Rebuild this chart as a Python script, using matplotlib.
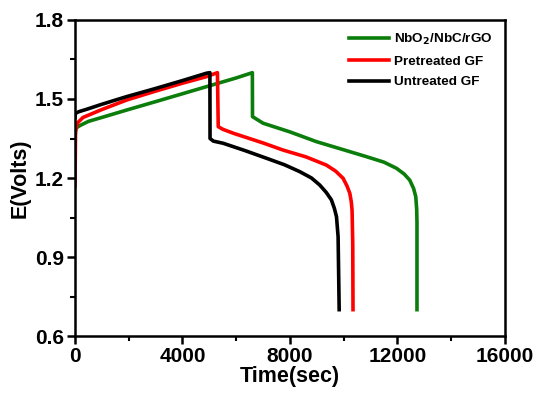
import matplotlib
matplotlib.use('Agg')
from matplotlib import pyplot as plt
from matplotlib.ticker import MultipleLocator, FormatStrFormatter

plt.rcParams['font.family'] = ['Liberation Sans', 'DejaVu Sans']
plt.rcParams['font.weight'] = 'bold'
plt.rcParams['mathtext.default'] = 'bf'

# NbO2/NbC/rGO
green_t = [0, 40, 200, 500, 1000, 1920, 3000, 4000, 4895, 6000, 6600,
           6605, 7000, 8000, 8985, 10000, 10845, 11500, 11960, 12250, 12455, 12600, 12680, 12715, 12725, 12725]
green_v = [1.36, 1.39, 1.40, 1.415, 1.43, 1.458, 1.49, 1.52, 1.547, 1.58, 1.60,
           1.433, 1.408, 1.375, 1.338, 1.307, 1.281, 1.26, 1.237, 1.215, 1.192, 1.16, 1.129, 1.08, 1.03, 0.70]

# Pretreated GF
red_t = [0, 20, 100, 300, 1000, 1920, 3000, 4000, 4895, 5300,
         5330, 5500, 5890, 7000, 7745, 8600, 9355, 9700, 9975, 10120, 10225, 10280, 10310, 10335, 10345]
red_v = [1.17, 1.38, 1.41, 1.43, 1.46, 1.496, 1.53, 1.56, 1.585, 1.60,
         1.395, 1.385, 1.37, 1.333, 1.306, 1.28, 1.249, 1.226, 1.199, 1.17, 1.142, 1.11, 1.077, 0.95, 0.70]

# Untreated GF
black_t = [0, 20, 150, 435, 1000, 1920, 3000, 4000, 4895, 5020,
           5025, 5150, 5510, 6300, 7125, 7800, 8365, 8800, 9110, 9350, 9540, 9650, 9730, 9790, 9830]
black_v = [1.43, 1.446, 1.452, 1.461, 1.48, 1.509, 1.54, 1.57, 1.598, 1.60,
           1.35, 1.34, 1.332, 1.305, 1.275, 1.25, 1.224, 1.2, 1.173, 1.145, 1.117, 1.085, 1.053, 0.977, 0.70]

fig = plt.figure(figsize=(5.45, 3.96), dpi=100)
ax = fig.add_axes([0.1376, 0.1515, 0.789, 0.798])

ax.plot(green_t, green_v, color='#0b7d0b', lw=2.6, label='NbO$_2$/NbC/rGO')
ax.plot(red_t, red_v, color='#ff0000', lw=2.6, label='Pretreated GF')
ax.plot(black_t, black_v, color='black', lw=2.6, label='Untreated GF')

ax.set_xlim(0, 16000)
ax.set_ylim(0.6, 1.8)
ax.xaxis.set_major_locator(MultipleLocator(4000))
ax.xaxis.set_minor_locator(MultipleLocator(2000))
ax.yaxis.set_major_locator(MultipleLocator(0.3))
ax.yaxis.set_minor_locator(MultipleLocator(0.15))
ax.yaxis.set_major_formatter(FormatStrFormatter('%.1f'))
ax.tick_params(which='major', direction='out', length=6, width=1.8, labelsize=15, pad=2)
ax.tick_params(which='minor', direction='out', length=3.5, width=1.5)
for s in ax.spines.values():
    s.set_linewidth(1.8)

ax.set_xlabel('Time(sec)', fontsize=15.5, fontweight='bold', labelpad=0)
ax.set_ylabel('E(Volts)', fontsize=15.5, fontweight='bold', labelpad=3)

ax.legend(loc='upper right', frameon=False, fontsize=9.7, handlelength=3.0,
          handletextpad=0.4, labelspacing=0.6, borderaxespad=0.5)

fig.savefig('out.png', dpi=100)
